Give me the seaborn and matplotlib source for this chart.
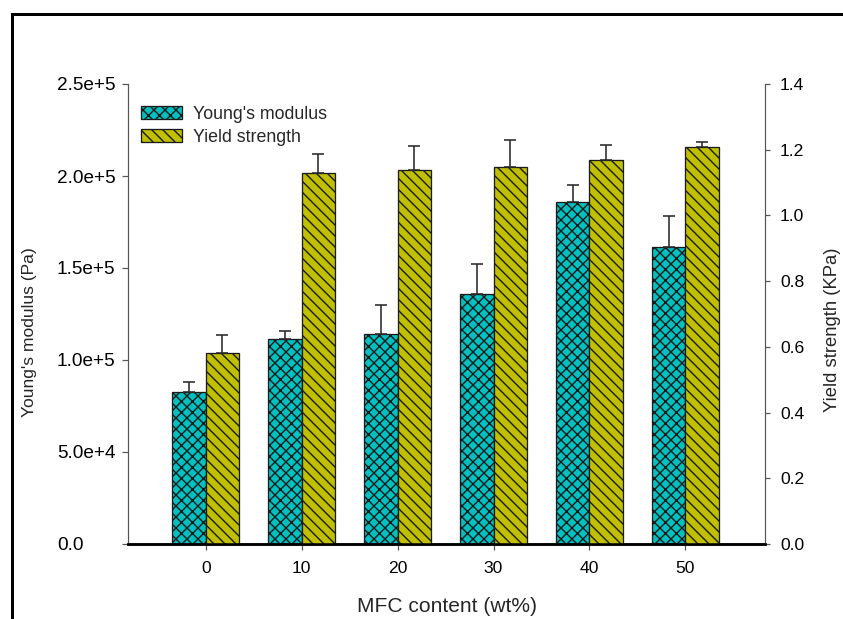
import numpy as np
import pandas as pd
import matplotlib
matplotlib.use("Agg")
import matplotlib.pyplot as plt
import seaborn as sns
from matplotlib.patches import Patch
from matplotlib.lines import Line2D

# ---------------- data ----------------
mfc_content = ["0", "10", "20", "30", "40", "50"]
youngs_modulus = [0.828e5, 1.114e5, 1.141e5, 1.359e5, 1.860e5, 1.612e5]
youngs_err = [0.054e5, 0.045e5, 0.160e5, 0.164e5, 0.091e5, 0.172e5]
yield_strength = [0.580, 1.128, 1.138, 1.148, 1.168, 1.208]
yield_err = [0.056, 0.058, 0.074, 0.082, 0.047, 0.016]
series = ["Young's modulus", "Yield strength"]
left_ticks = [0.0, 5.0e4, 1.0e5, 1.5e5, 2.0e5, 2.5e5]
left_ticklabels = ["0.0", "5.0e+4", "1.0e+5", "1.5e+5", "2.0e+5", "2.5e+5"]
right_ticks = [0.0, 0.2, 0.4, 0.6, 0.8, 1.0, 1.2, 1.4]
right_ticklabels = ["0.0", "0.2", "0.4", "0.6", "0.8", "1.0", "1.2", "1.4"]

# ---------------- geometry helpers ----------------
DPI = 66
W, H = 843, 619


def P(px):
    """pixels -> points"""
    return px * 72.0 / DPI


sns.set_style("ticks")
plt.rcParams["font.family"] = ["Liberation Sans", "DejaVu Sans"]
plt.rcParams["hatch.linewidth"] = P(1.4)
plt.rcParams["hatch.color"] = "black"

fig = plt.figure(figsize=(W / DPI, H / DPI), dpi=DPI)
ax_l, ax_r, ax_t, ax_b = 128, 765, 84, 544
ax1 = fig.add_axes([ax_l / W, (H - ax_b) / H, (ax_r - ax_l) / W, (ax_b - ax_t) / H])
ax2 = ax1.twinx()

df_y = pd.DataFrame({"MFC": mfc_content, "value": youngs_modulus, "series": series[0]})
df_s = pd.DataFrame({"MFC": mfc_content, "value": yield_strength, "series": series[1]})
palette = {series[0]: "#00C0C0", series[1]: "#C0C000"}
common = dict(x="MFC", y="value", hue="series", hue_order=series, order=mfc_content,
              palette=palette, width=0.7, dodge=True, saturation=1, errorbar=None,
              legend=False, edgecolor="#1a1a1a", linewidth=P(1.3))
sns.barplot(data=df_y, ax=ax1, **common)
sns.barplot(data=df_s, ax=ax2, **common)

hatch_y, hatch_s = "xx", "\\\\"
for p in ax1.patches:
    p.set_hatch(hatch_y)
for p in ax2.patches:
    p.set_hatch(hatch_s)

# upper-only error bars at the bar centres
err_kw = dict(fmt="none", ecolor="#2a2a2a", elinewidth=P(1.6), capsize=P(6),
              capthick=P(1.6), zorder=3)
for ax, vals, errs in ((ax1, youngs_modulus, youngs_err), (ax2, yield_strength, yield_err)):
    bars = sorted(ax.patches, key=lambda b: b.get_x())
    xc = [b.get_x() + b.get_width() / 2 for b in bars]
    ax.errorbar(xc, vals, yerr=[np.zeros(len(errs)), errs], **err_kw)

# limits / ticks
ax1.set_ylim(0, 2.5e5)
ax2.set_ylim(0, 1.4)
ax1.set_xlim(-0.81, 5.83)
ax1.set_yticks(left_ticks, left_ticklabels, ha="left")
ax2.set_yticks(right_ticks, right_ticklabels)

grey = "#555555"
ax1.tick_params(axis="y", direction="out", length=P(6), width=P(1.2), color=grey,
                labelsize=P(19), pad=P(65), labelcolor="black")
ax1.tick_params(axis="x", direction="out", length=P(6), width=P(1.2), color=grey,
                labelsize=P(17.5), pad=P(11), labelcolor="black")
ax2.tick_params(axis="y", direction="out", length=P(5), width=P(1.2), color=grey,
                labelsize=P(17.5), pad=P(10), labelcolor="black")

# spines
for ax in (ax1, ax2):
    ax.spines["top"].set_visible(False)
ax1.spines["right"].set_visible(False)
ax2.spines["left"].set_visible(False)
ax1.spines["left"].set_color(grey)
ax1.spines["left"].set_linewidth(P(1.2))
ax2.spines["right"].set_color(grey)
ax2.spines["right"].set_linewidth(P(1.2))
for ax in (ax1, ax2):
    ax.spines["bottom"].set_color("black")
    ax.spines["bottom"].set_linewidth(P(2.5))

# axis labels
aw, ah = ax_r - ax_l, ax_b - ax_t
ax1.set_xlabel("MFC content (wt%)", fontsize=P(21), va="center")
ax1.xaxis.set_label_coords(0.5, -(607 - ax_b) / ah)
ax1.set_ylabel("Young's modulus (Pa)", fontsize=P(17.5), va="center")
ax1.yaxis.set_label_coords(-(ax_l - 30) / aw, (ax_b - 332) / ah)
ax2.set_ylabel("Yield strength (KPa)", fontsize=P(18.5), va="center", rotation=90)
ax2.yaxis.set_label_coords((832 - ax_l) / aw, (ax_b - 330) / ah)

# legend
fs_leg = 17.7
handles = [Patch(facecolor=palette[series[0]], edgecolor="#1a1a1a", hatch=hatch_y, linewidth=P(1.3)),
           Patch(facecolor=palette[series[1]], edgecolor="#1a1a1a", hatch=hatch_s, linewidth=P(1.3))]
ax2.legend(handles, series, loc="upper left", bbox_to_anchor=(141 / W, 1 - 106 / H),
           bbox_transform=fig.transFigure, frameon=False, borderpad=0, borderaxespad=0,
           fontsize=P(fs_leg), handlelength=41 / fs_leg, handleheight=13 / fs_leg,
           handletextpad=11 / fs_leg, labelspacing=0.32)

# partial figure frame (top and left)
fig.add_artist(Line2D([11.5 / W, 11.5 / W, 1.01], [-0.01, 1 - 13.5 / H, 1 - 13.5 / H],
                      transform=fig.transFigure, color="black", lw=P(3),
                      solid_joinstyle="miter"))

fig.savefig("out.png", dpi=DPI)
